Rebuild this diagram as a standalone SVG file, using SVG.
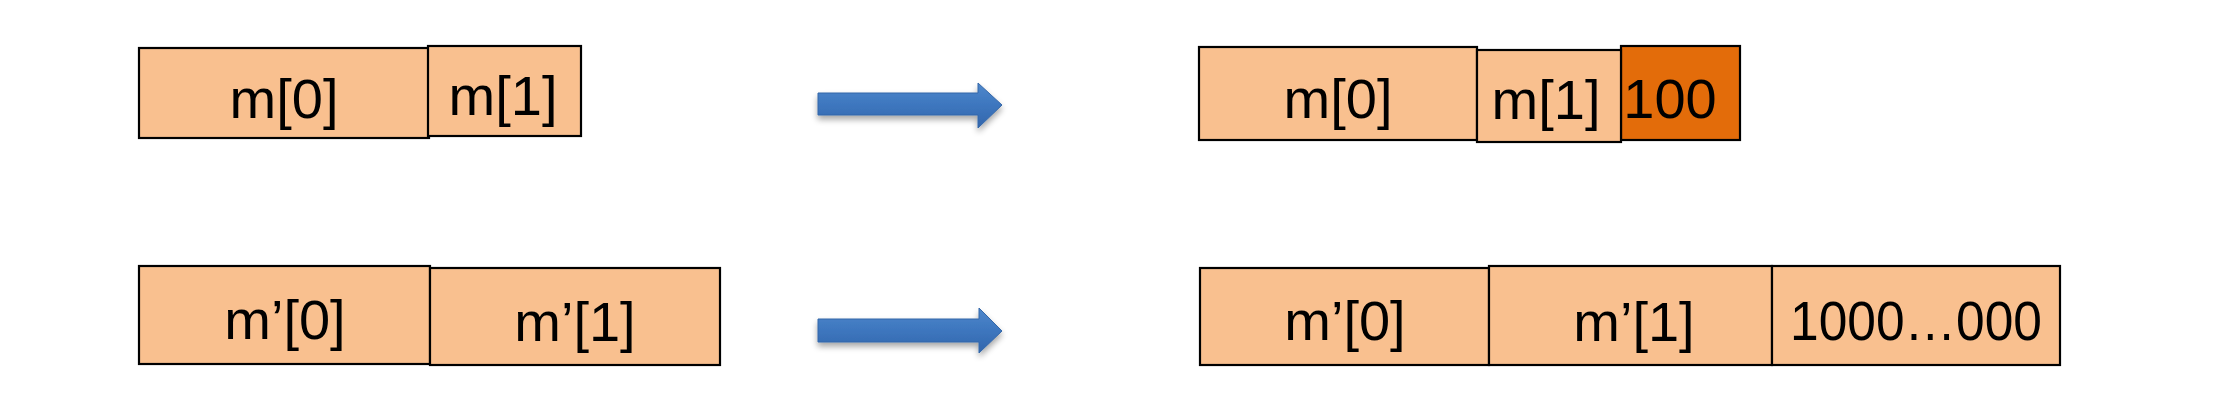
<svg xmlns="http://www.w3.org/2000/svg" width="2228" height="412" viewBox="0 0 2228 412">
<style>
.cell{fill:#F9C08F;stroke:#000;stroke-width:2.2}
.dark{fill:#E36C0A;stroke:#000;stroke-width:2.2}
.lbl{font-family:"Liberation Sans",Arial,sans-serif;font-size:56px;fill:#000;text-anchor:middle}
.arrow{fill:url(#blue);stroke:#3567A8;stroke-width:1;filter:url(#shadow)}
</style>
<defs>
<linearGradient id="blue" x1="0" y1="0" x2="0" y2="1">
<stop offset="0" stop-color="#4E88CC"/>
<stop offset="0.5" stop-color="#3D76BE"/>
<stop offset="1" stop-color="#3266AC"/>
</linearGradient>
<filter id="shadow" x="-10%" y="-30%" width="120%" height="170%">
<feGaussianBlur in="SourceAlpha" stdDeviation="3"/>
<feOffset dx="0" dy="4" result="b"/>
<feComponentTransfer><feFuncA type="linear" slope="0.35"/></feComponentTransfer>
<feMerge><feMergeNode/><feMergeNode in="SourceGraphic"/></feMerge>
</filter>
</defs>
<rect width="2228" height="412" fill="#fff"/>
<g id="tl-m0"><rect class="cell" x="139" y="48" width="290" height="90"/><text class="lbl" x="284" y="118">m[0]</text></g>
<g id="tl-m1"><rect class="cell" x="428" y="46" width="153" height="90"/><text class="lbl" x="503" y="115">m[1]</text></g>
<g id="tr-m0"><rect class="cell" x="1199" y="47" width="278" height="93"/><text class="lbl" x="1338" y="118">m[0]</text></g>
<g id="tr-100"><rect class="dark" x="1621" y="46" width="119" height="94"/><text class="lbl" x="1670" y="118">100</text></g>
<g id="tr-m1"><rect class="cell" x="1477" y="50" width="144" height="92"/><text class="lbl" x="1546" y="119">m[1]</text></g>
<g id="bl-m0"><rect class="cell" x="139" y="266" width="291" height="98"/><text class="lbl" x="285" y="339">m’[0]</text></g>
<g id="bl-m1"><rect class="cell" x="430" y="268" width="290" height="97"/><text class="lbl" x="575" y="341">m’[1]</text></g>
<g id="br-m0"><rect class="cell" x="1200" y="268" width="289" height="97"/><text class="lbl" x="1345" y="340">m’[0]</text></g>
<g id="br-m1"><rect class="cell" x="1489" y="266" width="283" height="99"/><text class="lbl" x="1634" y="341">m’[1]</text></g>
<g id="br-pad"><rect class="cell" x="1772" y="266" width="288" height="99"/><text class="lbl" x="1916" y="340" textLength="252" lengthAdjust="spacingAndGlyphs">1000…000</text></g>
<g id="connectors">
<path class="arrow" d="M818,93 H978 V83 L1002,105 L978,128 V115 H818 Z"/>
<path class="arrow" d="M818,319 H979 V308 L1002,331 L979,353 V342 H818 Z"/>
</g>
</svg>
